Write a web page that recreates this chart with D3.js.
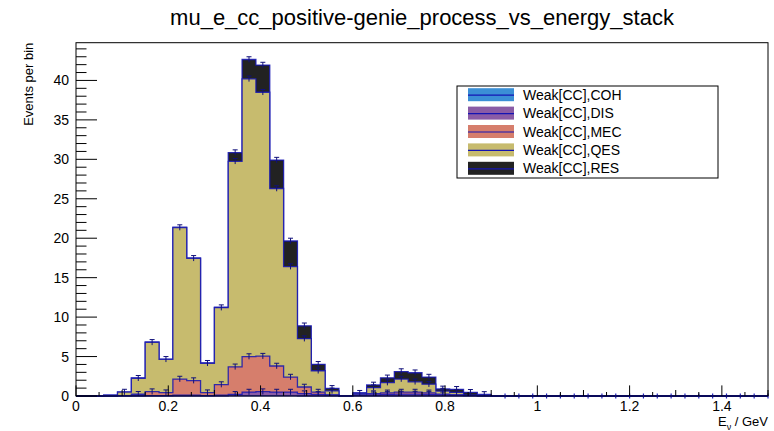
<!DOCTYPE html>
<html>
<head>
<meta charset="utf-8">
<script src="https://cdn.jsdelivr.net/npm/d3@7"></script>
<style>
  body { margin: 0; background: #fff; }
  svg { font-family: "Liberation Sans", Arial, sans-serif; }
</style>
</head>
<body>
<div id="chart"></div>
<script>
// histogram binning (E_nu / GeV)
const binWidth = 0.03;
const xMin = 0, xMax = 1.5;

// process names, bottom of the stack first
const processes = ["Weak[CC],COH", "Weak[CC],DIS", "Weak[CC],MEC", "Weak[CC],QES", "Weak[CC],RES"];
const colors = ["#3b8fd6", "#8a5ca6", "#d67e6c", "#c7bb6e", "#222222"];

// events per bin for each process (50 bins)
const cohValues = [0,0,0,0,0,0,0,0,0,0, 0,0.01,0.02,0.02,0.02,0.01,0,0,0,0, 0,0,0,0,0,0,0,0,0,0, 0,0,0,0,0,0,0,0,0,0, 0,0,0,0,0,0,0,0,0,0];
const disValues = [0,0,0,0.02,0.03,0.05,0.05,0.1,0.1,0.05, 0.1,0.2,0.48,0.53,0.48,0.49,0.3,0.2,0.1,0.02, 0.1,0.15,0.2,0.25,0.25,0.2,0.15,0.1,0.05,0.03, 0,0,0,0,0,0,0,0,0,0, 0,0,0,0,0,0,0,0,0,0];
const mecValues = [0,0,0,0.03,0.19,0.5,0.37,2.05,1.85,0.37, 1.35,3.49,4.5,4.5,3.3,1.9,0.84,0.3,0.05,0.01, 0.05,0.15,0.2,0.25,0.25,0.2,0.1,0.05,0.03,0, 0,0,0,0,0,0,0,0,0,0, 0,0,0,0,0,0,0,0,0,0];
const qesValues = [0,0,0.1,0.45,2.03,6.25,4.23,19.2,15.5,3.73, 9.75,26.05,35.2,33.45,22.5,14.0,6.13,2.7,0.5,0.02, 0.2,0.75,1.3,1.65,1.3,1.1,0.37,0.3,0.04,0.02, 0,0,0,0,0,0,0,0,0,0, 0,0,0,0,0,0,0,0,0,0];
const resValues = [0,0,0,0.02,0.03,0.05,0.03,0.05,0.05,0.03, 0.05,1.1,2.45,3.45,3.6,3.25,1.63,0.82,0.32,0, 0.05,0.35,0.6,0.95,1.15,0.9,0.28,0.4,0.35,0.15, 0,0,0,0,0,0,0,0,0,0, 0,0,0,0,0,0,0,0,0,0];

// half size of the statistical error bars
const binError = 0.35;

// axis ticks
const xLabels = [0, 0.2, 0.4, 0.6, 0.8, 1, 1.2, 1.4];
const yLabels = [0, 5, 10, 15, 20, 25, 30, 35, 40];

const width = 774, height = 431;
const frameLeft = 76, frameRight = 768, frameTop = 42.7, frameBottom = 396;
const lineColor = "#1414b4";

let svg = d3.select("#chart").append("svg").attr("width", width).attr("height", height);

let series = [cohValues, disValues, mecValues, qesValues, resValues];
let nBins = cohValues.length;

// cumulative tops for the stack
let stacked = [];
let running = new Array(nBins).fill(0);
series.forEach(s => {
    running = running.map((v, i) => v + s[i]);
    stacked.push(running.slice());
});
let totals = stacked[stacked.length - 1];

let xScale = d3.scaleLinear().domain([xMin, xMax]).range([frameLeft, frameRight]);
let yScale = d3.scaleLinear().domain([0, d3.max(totals) * 1.05]).range([frameBottom, frameTop]);

// step points: one per bin low edge plus the last upper edge
function stepPoints(vals) {
    let pts = vals.map((v, i) => ({ x: xMin + i * binWidth, y: v }));
    pts.push({ x: xMin + nBins * binWidth, y: vals[nBins - 1] });
    return pts;
}

let area = d3.area().curve(d3.curveStepAfter)
    .x(d => xScale(d.x)).y0(yScale(0)).y1(d => yScale(d.y));
let line = d3.line().curve(d3.curveStepAfter)
    .x(d => xScale(d.x)).y(d => yScale(d.y));

// ROOT draws the stack from the total down
let plot = svg.append("g");
for (let k = stacked.length - 1; k >= 0; k--) {
    let pts = stepPoints(stacked[k]);
    plot.append("path").attr("d", area(pts)).attr("fill", colors[k]);
    plot.append("path").attr("d", line(pts)).attr("fill", "none")
        .attr("stroke", lineColor).attr("stroke-width", 1.3).attr("stroke-opacity", 0.85);
}

// error bars on each layer top (tiny layers barely show one)
for (let k = 0; k < stacked.length; k++) {
    stacked[k].forEach((topVal, i) => {
        if (series[k][i] < 0.15) return;
        let cx = xScale(xMin + (i + 0.5) * binWidth);
        let y1 = yScale(topVal + binError), y0 = yScale(Math.max(0, topVal - binError));
        plot.append("line").attr("x1", cx).attr("x2", cx).attr("y1", y1).attr("y2", y0)
            .attr("stroke", "#10107a").attr("stroke-width", 1);
        plot.append("line").attr("x1", cx - 2.5).attr("x2", cx + 2.5).attr("y1", y1).attr("y2", y1)
            .attr("stroke", "#10107a").attr("stroke-width", 1);
    });
}

// markers of empty bins along the axis
d3.range(nBins + 1).forEach(i => {
    let before = i > 0 ? totals[i - 1] : 0;
    let after = i < nBins ? totals[i] : 0;
    if (before > 0 || after > 0 || i < 3) return;
    let x = xScale(xMin + i * binWidth);
    svg.append("line").attr("x1", x).attr("x2", x).attr("y1", frameBottom - 2.5).attr("y2", frameBottom + 2.5)
        .attr("stroke", "#2020c0").attr("stroke-width", 1.2);
});

// frame
svg.append("rect").attr("x", frameLeft).attr("y", frameTop)
    .attr("width", frameRight - frameLeft).attr("height", frameBottom - frameTop)
    .attr("fill", "none").attr("stroke", "#000").attr("stroke-width", 1);

// x axis ticks (0.2 major, 0.1 medium, 0.05 small)
let xTicks = d3.range(0, 31).map(i => i * 0.05).filter(v => v <= xMax + 1e-9);
xTicks.forEach((v, i) => {
    let len = i % 4 === 0 ? 10.6 : (i % 2 === 0 ? 6 : 4);
    let x = xScale(v);
    svg.append("line").attr("x1", x).attr("x2", x).attr("y1", frameBottom).attr("y2", frameBottom - len)
        .attr("stroke", "#000").attr("stroke-width", 1);
});
svg.selectAll(".xlab").data(xLabels).join("text")
    .attr("x", d => xScale(d)).attr("y", 411)
    .attr("text-anchor", "middle").attr("font-size", 14).attr("fill", "#000")
    .text(d => d3.format("")(d));

// y axis ticks (5 major, 1 minor)
let yMaxVal = yScale.domain()[1];
d3.range(0, Math.floor(yMaxVal) + 1).forEach(v => {
    let len = v % 5 === 0 ? 21 : 10.5;
    let y = yScale(v);
    svg.append("line").attr("x1", frameLeft).attr("x2", frameLeft + len).attr("y1", y).attr("y2", y)
        .attr("stroke", "#000").attr("stroke-width", 1);
});
svg.selectAll(".ylab").data(yLabels).join("text")
    .attr("x", 69).attr("y", d => yScale(d) + 5)
    .attr("text-anchor", "end").attr("font-size", 14).attr("fill", "#000")
    .text(d => d);

// axis titles
svg.append("text").attr("transform", "translate(33," + frameTop + ") rotate(-90)")
    .attr("text-anchor", "end").attr("font-size", 13).text("Events per bin");
let xt = svg.append("text").attr("x", frameRight).attr("y", 426).attr("text-anchor", "end").attr("font-size", 13);
xt.append("tspan").text("E");
xt.append("tspan").attr("dy", 4).attr("font-size", 9).text("ν");
xt.append("tspan").attr("dy", -4).text(" / GeV");

// title
svg.append("text").attr("x", (frameLeft + frameRight) / 2).attr("y", 25).attr("text-anchor", "middle")
    .attr("font-size", 22).text("mu_e_cc_positive-genie_process_vs_energy_stack");

// legend
let lx = 457, ly = 86, lw = 261, lh = 92, rowH = 18.4;
let legend = svg.append("g");
legend.append("rect").attr("x", lx).attr("y", ly).attr("width", lw).attr("height", lh)
    .attr("fill", "#fff").attr("stroke", "#000").attr("stroke-width", 1);
processes.forEach((name, k) => {
    let cy = ly + 8.7 + k * rowH;
    legend.append("rect").attr("x", lx + 11).attr("y", cy - 6.5).attr("width", 46).attr("height", 13)
        .attr("fill", colors[k]);
    legend.append("line").attr("x1", lx + 11).attr("x2", lx + 57).attr("y1", cy + 0.5).attr("y2", cy + 0.5)
        .attr("stroke", lineColor).attr("stroke-width", 1.2);
    legend.append("text").attr("x", lx + 66).attr("y", cy + 5).attr("font-size", 14).text(name);
});
</script>
</body>
</html>
